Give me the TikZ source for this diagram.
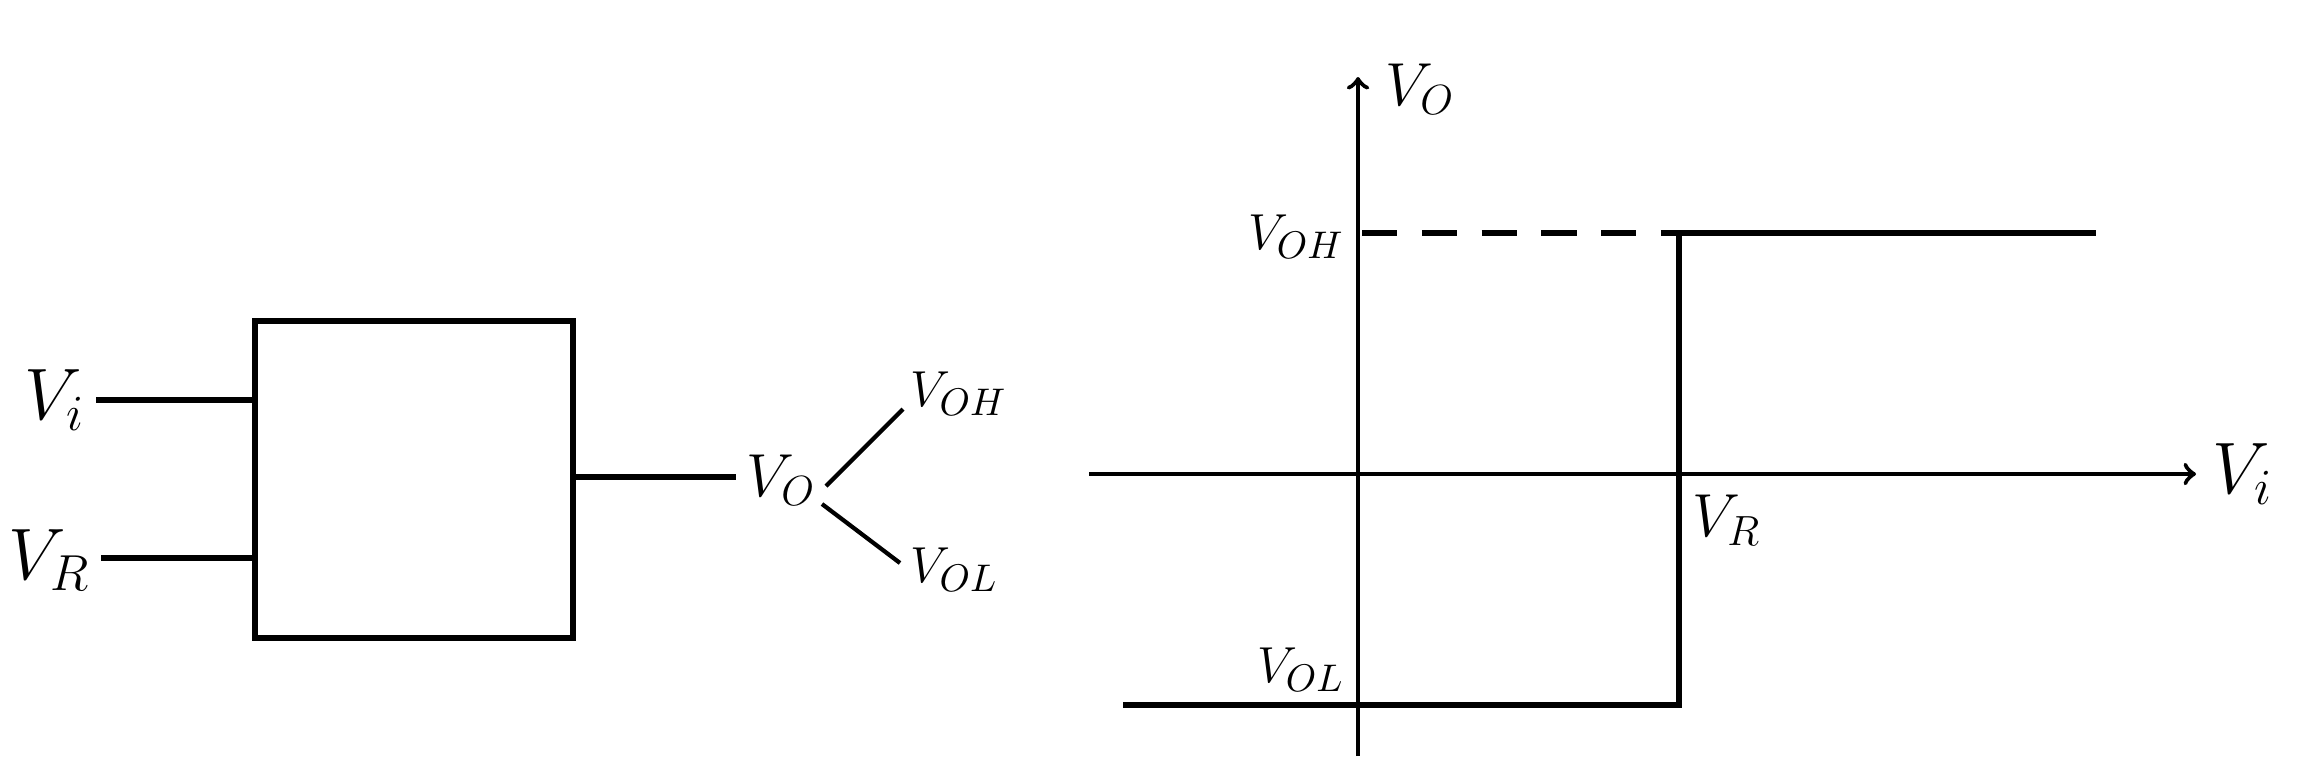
\documentclass[tikz,border=0pt]{standalone}
\usepackage{tikz}
\usetikzlibrary{shapes,arrows}
\usetikzlibrary{positioning}
\usetikzlibrary{calc}
\tikzstyle{block} = [rectangle, draw=black, line width=1.6pt, minimum width=3.18cm,
minimum height = 3.17cm]
\tikzstyle{wire} = [draw, line width=1.6pt]
\tikzstyle{axis} = [draw, ->, line width=1.3pt]
\tikzstyle{curve} = [draw, line width=1.5pt]
\tikzstyle{big} = [font=\fontsize{21}{23}\selectfont, inner sep=0pt]
\tikzstyle{mid} = [font=\fontsize{18}{20}\selectfont, inner sep=0pt]
\tikzstyle{small} = [font=\fontsize{15}{17}\selectfont, inner sep=0pt]

\begin{document}
\begin{tikzpicture}[x=0.01cm, y=-0.01cm]
	\useasboundingbox (0,0) rectangle (2322,756);
	%% Comparator block
	\node [block] (C) at (414,479.5) {};
	\node [big, anchor=east] (Vi) at (86,400) {$V_i$};
	\node [big, anchor=east] (VR) at (91,560) {$V_R$};
	\coordinate (i1) at (255,400);
	\coordinate (i2) at (255,558);
	\coordinate (o1) at (573,477);
	\node [mid, anchor=west] (Vo) at (746,480) {$V_O$};
	\node [small, anchor=west] (VOH) at (910,394) {$V_{OH}$};
	\node [small, anchor=west] (VOL) at (910,570) {$V_{OL}$};
	%% Wires
	\path [wire] (96,400) -- (i1);
	\path [wire] (101,558) -- (i2);
	\path [wire] (o1) -- (736,477);
	\path [wire, line width=1.2pt] (826,486) -- (903,409);
	\path [wire, line width=1.2pt] (822,504) -- (900,563);
	%% Transfer characteristic
	\coordinate (O) at (1358,474);
	\path [axis] (1358,756) -- (1358,77);
	\path [axis] (1089,474) -- (2196,474);
	\node [mid, anchor=west] (yl) at (1385,89) {$V_O$};
	\node [big, anchor=west] (xl) at (2212,474) {$V_i$};
	\coordinate (h0) at (1362,233);
	\coordinate (h1) at (1679,233);
	\coordinate (h2) at (2096,233);
	\coordinate (l0) at (1123,705);
	\coordinate (l1) at (1679,705);
	\path [curve, dash pattern=on 10pt off 7pt] (h0) -- (h1);
	\path [curve] (l0) -- (l1) -- (h1) -- (h2);
	\node [small, anchor=east] (LH) at (1345,237) {$V_{OH}$};
	\node [small, anchor=south east] (LL) at (1345,692) {$V_{OL}$};
	\node [mid, anchor=north west] (LR) at (1692,494) {$V_R$};
\end{tikzpicture}
\end{document}
